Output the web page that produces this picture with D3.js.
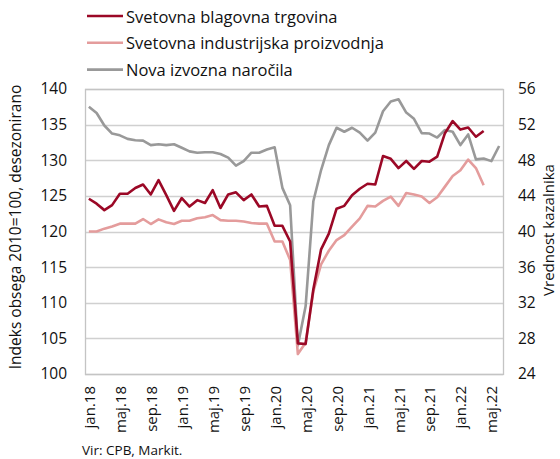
<!DOCTYPE html>
<html>
<head>
<meta charset="utf-8">
<script src="https://cdn.jsdelivr.net/npm/d3@7"></script>
<style>
    body { margin: 0; background: #fff; }
    text { font-family: 'Open Sans', 'Noto Sans', sans-serif; fill: #111; }
</style>
</head>
<body>
<svg id="chart" width="560" height="459"></svg>
<script>

// month names used on the category axis
const monthNames = ['jan','feb','mar','apr','maj','jun','jul','avg','sep','okt','nov','dec'];
const years = ['18','19','20','21','22'];
const lastMonth = 6; // data runs to jun.22

// series (left axis: index 2010=100)
const trade = [124.6, 123.9, 123.0, 123.7, 125.3, 125.3, 126.1, 126.6, 125.2, 127.2, 125.1, 122.9,
    124.7, 123.5, 124.4, 124.0, 125.8, 123.3, 125.2, 125.5, 124.4, 125.2, 123.5, 123.6,
    120.8, 120.8, 118.6, 104.3, 104.2, 111.9, 117.5, 119.7, 123.2, 123.6, 125.1, 126.0,
    126.7, 126.6, 130.6, 130.2, 128.9, 129.9, 128.8, 129.9, 129.8, 130.5, 133.8, 135.5,
    134.3, 134.6, 133.3, 134.1];
const production = [120.0, 120.0, 120.4, 120.7, 121.1, 121.1, 121.1, 121.75, 121.05, 121.7, 121.3, 121.05,
    121.5, 121.5, 121.85, 122.0, 122.3, 121.6, 121.5, 121.5, 121.4, 121.2, 121.1, 121.1,
    118.6, 118.6, 116.0, 102.8, 104.4, 111.6, 115.4, 117.3, 118.8, 119.5, 120.7, 121.85,
    123.6, 123.5, 124.3, 124.9, 123.6, 125.4, 125.2, 124.9, 124.0, 124.8, 126.3, 127.8,
    128.6, 130.1, 128.9, 126.5];
// right axis: PMI new export orders
const orders = [54.0, 53.3, 51.9, 51.0, 50.8, 50.4, 50.25, 50.2, 49.7, 49.8, 49.7, 49.8,
    49.4, 49.0, 48.85, 48.9, 48.9, 48.7, 48.3, 47.4, 47.9, 48.85, 48.85, 49.2,
    49.45, 44.9, 42.95, 27.2, 31.6, 43.4, 46.9, 49.7, 51.65, 51.2, 51.65, 51.1,
    50.2, 51.1, 53.5, 54.6, 54.85, 53.35, 52.65, 51.05, 51.0, 50.55, 51.4, 51.2,
    49.7, 50.9, 48.1, 48.2, 47.9, 49.6];

const seriesNames = ['Svetovna blagovna trgovina', 'Svetovna industrijska proizvodnja', 'Nova izvozna naročila'];
const seriesColors = ['#9b0826', '#e49c9c', '#999999'];
const leftTicks = [100, 105, 110, 115, 120, 125, 130, 135, 140];
const rightTicks = [24, 28, 32, 36, 40, 44, 48, 52, 56];
const leftTitle = 'Indeks obsega 2010=100, desezonirano';
const rightTitle = 'Vrednost kazalnika';
const sourceNote = 'Vir: CPB, Markit.';

// build the month categories jan.18 ... jun.22
let months = [];
years.forEach( function(y, yi) {
    monthNames.forEach( function(m, mi) {
        if (yi < years.length-1 || mi < lastMonth)
            months.push( m + '.' + y );
    } );
} );

let svg = d3.select('#chart');
let plotLeft = 85, plotTop = 89, plotRight = 503, plotBottom = 374;

let x = d3.scaleBand()
    .domain( months )
    .range( [plotLeft, plotRight] )
    .padding( 0 );
let yLeft = d3.scaleLinear()
    .domain( [100, 140] )
    .range( [plotBottom, plotTop] );
let yRight = d3.scaleLinear()
    .domain( [24, 56] )
    .range( [plotBottom, plotTop] );

let cx = function(i) { return x(months[i]) + x.bandwidth()/2; };

// horizontal gridlines
svg.append( 'g' )
    .attr( 'id', 'grid' )
    .selectAll( 'line' )
    .data( leftTicks )
    .join( 'line' )
    .attr( 'x1', plotLeft )
    .attr( 'x2', plotRight )
    .attr( 'y1', function(d) {return Math.round(yLeft(d)) + 0.5;} )
    .attr( 'y2', function(d) {return Math.round(yLeft(d)) + 0.5;} )
    .attr( 'stroke', '#d0d0d0' )
    .attr( 'stroke-width', 1.3 );

// plot border
svg.append( 'rect' )
    .attr( 'x', plotLeft + 0.5 )
    .attr( 'y', plotTop + 0.5 )
    .attr( 'width', plotRight - plotLeft )
    .attr( 'height', plotBottom - plotTop )
    .attr( 'fill', 'none' )
    .attr( 'stroke', '#c4c4c4' )
    .attr( 'stroke-width', 1.3 );

// left axis labels
let axisLeft = d3.axisLeft( yLeft )
    .tickValues( leftTicks )
    .tickSize( 0 )
    .tickPadding( 18 );
svg.append( 'g' )
    .attr( 'transform', `translate(${plotLeft},0)` )
    .call( axisLeft )
    .call( function(g) { g.select('.domain').remove(); } )
    .selectAll( 'text' )
    .attr( 'font-size', 15.5 )
    .attr( 'font-family', null );

// right axis labels
let axisRight = d3.axisRight( yRight )
    .tickValues( rightTicks )
    .tickSize( 0 )
    .tickPadding( 15 );
svg.append( 'g' )
    .attr( 'transform', `translate(${plotRight},0)` )
    .call( axisRight )
    .call( function(g) { g.select('.domain').remove(); } )
    .selectAll( 'text' )
    .attr( 'font-size', 15.5 )
    .attr( 'font-family', null );

// category axis, every fourth month, rotated
let axisBottom = d3.axisBottom( x )
    .tickValues( months.filter( function(d, i) {return i % 4 == 0;} ) )
    .tickSize( 0 )
    .tickPadding( 0 );
svg.append( 'g' )
    .attr( 'transform', `translate(0,${plotBottom})` )
    .call( axisBottom )
    .call( function(g) { g.select('.domain').remove(); } )
    .selectAll( 'text' )
    .attr( 'font-size', 15 )
    .attr( 'font-family', null )
    .attr( 'text-anchor', 'end' )
    .attr( 'y', 0 )
    .attr( 'dy', null )
    .attr( 'dominant-baseline', 'central' )
    .attr( 'transform', 'translate(0,12) rotate(-90)' );

// the three lines
let lineLeft = d3.line()
    .x( function(d, i) {return cx(i);} )
    .y( function(d) {return yLeft(d);} );
let lineRight = d3.line()
    .x( function(d, i) {return cx(i);} )
    .y( function(d) {return yRight(d);} );

let lines = svg.append( 'g' ).attr( 'id', 'lines' );
lines.append( 'path' )
    .attr( 'd', lineRight( orders ) )
    .attr( 'stroke', seriesColors[2] );
lines.append( 'path' )
    .attr( 'd', lineLeft( production ) )
    .attr( 'stroke', seriesColors[1] );
lines.append( 'path' )
    .attr( 'd', lineLeft( trade ) )
    .attr( 'stroke', seriesColors[0] );
lines.selectAll( 'path' )
    .attr( 'fill', 'none' )
    .attr( 'stroke-width', 2.6 )
    .attr( 'stroke-linejoin', 'round' );

// axis titles
svg.append( 'text' )
    .text( leftTitle )
    .attr( 'font-size', 15.5 )
    .attr( 'text-anchor', 'middle' )
    .attr( 'dominant-baseline', 'central' )
    .attr( 'transform', 'translate(15,227) rotate(-90)' );
svg.append( 'text' )
    .text( rightTitle )
    .attr( 'font-size', 15 )
    .attr( 'text-anchor', 'middle' )
    .attr( 'dominant-baseline', 'central' )
    .attr( 'transform', 'translate(548,230) rotate(-90)' );

// legend
let legend = svg.append( 'g' )
    .attr( 'id', 'legend' )
    .selectAll( 'g' )
    .data( seriesNames )
    .join( 'g' )
    .attr( 'transform', function(d, i) {return `translate(87,${16 + i*26.8})`;} );
legend.append( 'line' )
    .attr( 'x1', 0 )
    .attr( 'x2', 36 )
    .attr( 'stroke', function(d, i) {return seriesColors[i];} )
    .attr( 'stroke-width', 2.6 );
legend.append( 'text' )
    .text( function(d) {return d;} )
    .attr( 'x', 39 )
    .attr( 'font-size', 16.5 )
    .attr( 'dominant-baseline', 'central' );

// source note
svg.append( 'text' )
    .text( sourceNote )
    .attr( 'x', 82 )
    .attr( 'y', 450 )
    .attr( 'font-size', 13.5 )
    .attr( 'dominant-baseline', 'central' );

</script>
</body>
</html>
